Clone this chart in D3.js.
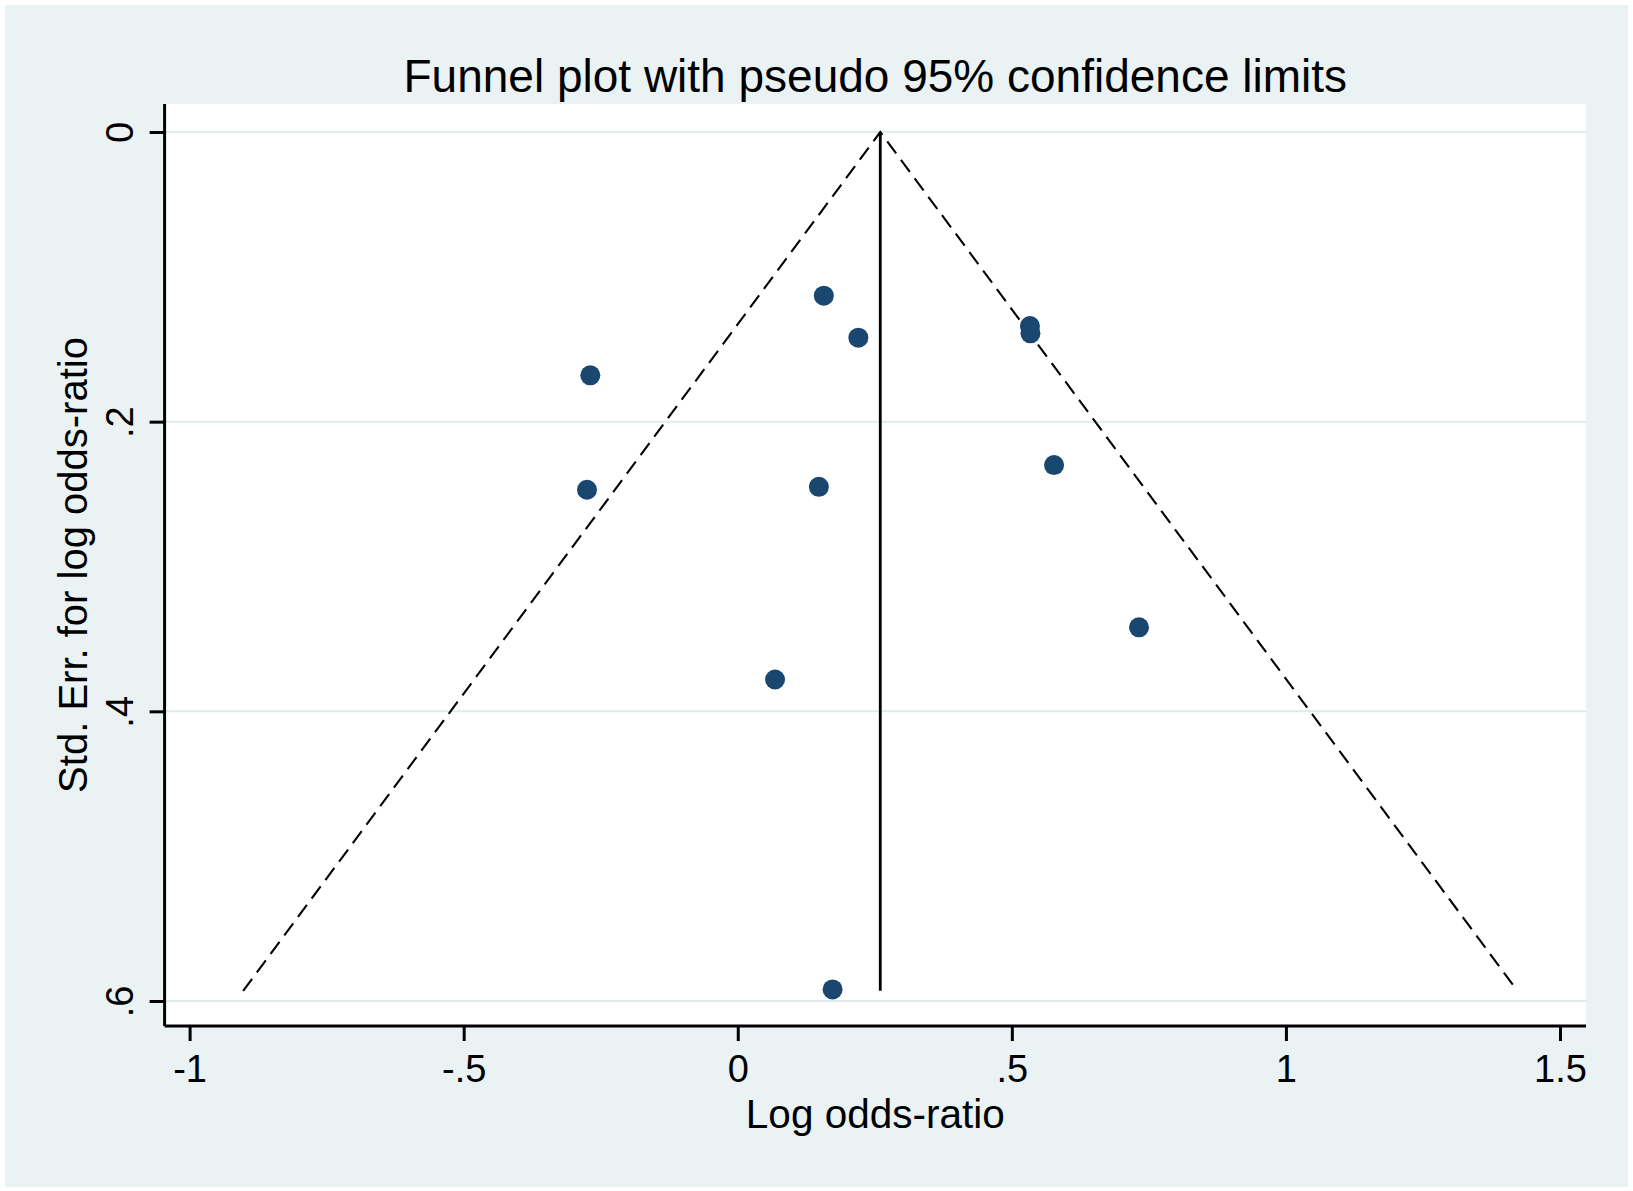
<!DOCTYPE html>
<html>
<head>
<meta charset="utf-8">
<script src="https://cdn.jsdelivr.net/npm/d3@7"></script>
<style>
  body { margin: 0; background: #fff; }
  text { font-family: "Liberation Sans", Arial, sans-serif; fill: #000; }
</style>
</head>
<body>
<svg id="chart" width="1633" height="1191"></svg>
<script>
// study estimates (log odds-ratio) and their standard errors
var logOR = [0.157, 0.220, 0.533, 0.534, -0.269, -0.275, 0.148, 0.577, 0.732, 0.068, 0.173];
var stdErr = [0.113, 0.142, 0.134, 0.139, 0.168, 0.247, 0.245, 0.230, 0.342, 0.378, 0.592];

// pooled estimate and funnel depth
var pooled = 0.26;
var maxSE = 0.593;
var z95 = 1.96;

var xTicks = [-1, -0.5, 0, 0.5, 1, 1.5];
var xTickLabels = ["-1", "-.5", "0", ".5", "1", "1.5"];
var yTicks = [0, 0.2, 0.4, 0.6];
var yTickLabels = ["0", ".2", ".4", ".6"];

var svg = d3.select("#chart");

// outer graph region
svg.append("rect")
    .attr("x", 5).attr("y", 5)
    .attr("width", 1623).attr("height", 1182)
    .attr("fill", "#eaf2f3");

var plotLeft = 164.6, plotRight = 1586, plotTop = 104, plotBottom = 1026;

svg.append("rect")
    .attr("x", plotLeft).attr("y", plotTop)
    .attr("width", plotRight - plotLeft).attr("height", plotBottom - plotTop)
    .attr("fill", "#fff");

var x = d3.scaleLinear().domain([-1, 1.5]).range([189.6, 1560]);
var y = d3.scaleLinear().domain([0, 0.6]).range([132, 1001]);

// grid lines
svg.append("g")
    .selectAll("line")
    .data(yTicks)
    .enter().append("line")
    .attr("x1", plotLeft).attr("x2", plotRight)
    .attr("y1", function (d) { return y(d); })
    .attr("y2", function (d) { return y(d); })
    .attr("stroke", "#e1ebee")
    .attr("stroke-width", 2);

// pseudo 95% confidence limits
var funnel = [
    [pooled - z95 * maxSE, maxSE],
    [pooled, 0],
    [pooled + z95 * maxSE, maxSE]
];
var line = d3.line()
    .x(function (d) { return x(d[0]); })
    .y(function (d) { return y(d[1]); });

svg.append("path")
    .attr("d", line(funnel))
    .attr("fill", "none")
    .attr("stroke", "#000")
    .attr("stroke-width", 2.1)
    .attr("stroke-dasharray", "15,8");

// pooled estimate line
svg.append("path")
    .attr("d", line([[pooled, 0], [pooled, maxSE]]))
    .attr("stroke", "#000")
    .attr("stroke-width", 2.8);

// studies
svg.append("g")
    .selectAll("circle")
    .data(logOR)
    .enter().append("circle")
    .attr("cx", function (d) { return x(d); })
    .attr("cy", function (d, i) { return y(stdErr[i]); })
    .attr("r", 10)
    .attr("fill", "#1a476f");

// x axis
var xAxis = svg.append("g")
    .attr("transform", "translate(0," + plotBottom + ")")
    .call(d3.axisBottom(x).tickValues(xTicks)
        .tickFormat(function (d, i) { return xTickLabels[i]; })
        .tickSize(15).tickPadding(14));
xAxis.select(".domain").remove();
xAxis.append("line")
    .attr("x1", plotLeft).attr("x2", plotRight)
    .attr("stroke", "#000").attr("stroke-width", 3);
xAxis.selectAll(".tick line").attr("stroke", "#000").attr("stroke-width", 3);
xAxis.selectAll(".tick text")
    .attr("font-family", "Liberation Sans, Arial, sans-serif")
    .attr("font-size", 38)
    .attr("fill", "#000");

// y axis
var yAxis = svg.append("g")
    .attr("transform", "translate(" + plotLeft + ",0)")
    .call(d3.axisLeft(y).tickValues(yTicks)
        .tickFormat(function (d, i) { return yTickLabels[i]; })
        .tickSize(15).tickPadding(0));
yAxis.select(".domain").remove();
yAxis.append("line")
    .attr("y1", plotTop).attr("y2", plotBottom)
    .attr("stroke", "#000").attr("stroke-width", 3);
yAxis.selectAll(".tick line").attr("stroke", "#000").attr("stroke-width", 3);
yAxis.selectAll(".tick text")
    .attr("font-family", "Liberation Sans, Arial, sans-serif")
    .attr("font-size", 38)
    .attr("fill", "#000")
    .attr("x", null).attr("dy", null)
    .attr("text-anchor", "middle")
    .attr("transform", "translate(-32,0) rotate(-90)");

// titles
svg.append("text")
    .attr("x", (plotLeft + plotRight) / 2)
    .attr("y", 92)
    .attr("text-anchor", "middle")
    .attr("font-size", 46)
    .text("Funnel plot with pseudo 95% confidence limits");

svg.append("text")
    .attr("x", (plotLeft + plotRight) / 2)
    .attr("y", 1128)
    .attr("text-anchor", "middle")
    .attr("font-size", 40.5)
    .text("Log odds-ratio");

svg.append("text")
    .attr("transform", "translate(87," + (plotTop + plotBottom) / 2 + ") rotate(-90)")
    .attr("text-anchor", "middle")
    .attr("font-size", 40)
    .text("Std. Err. for log odds-ratio");
</script>
</body>
</html>
